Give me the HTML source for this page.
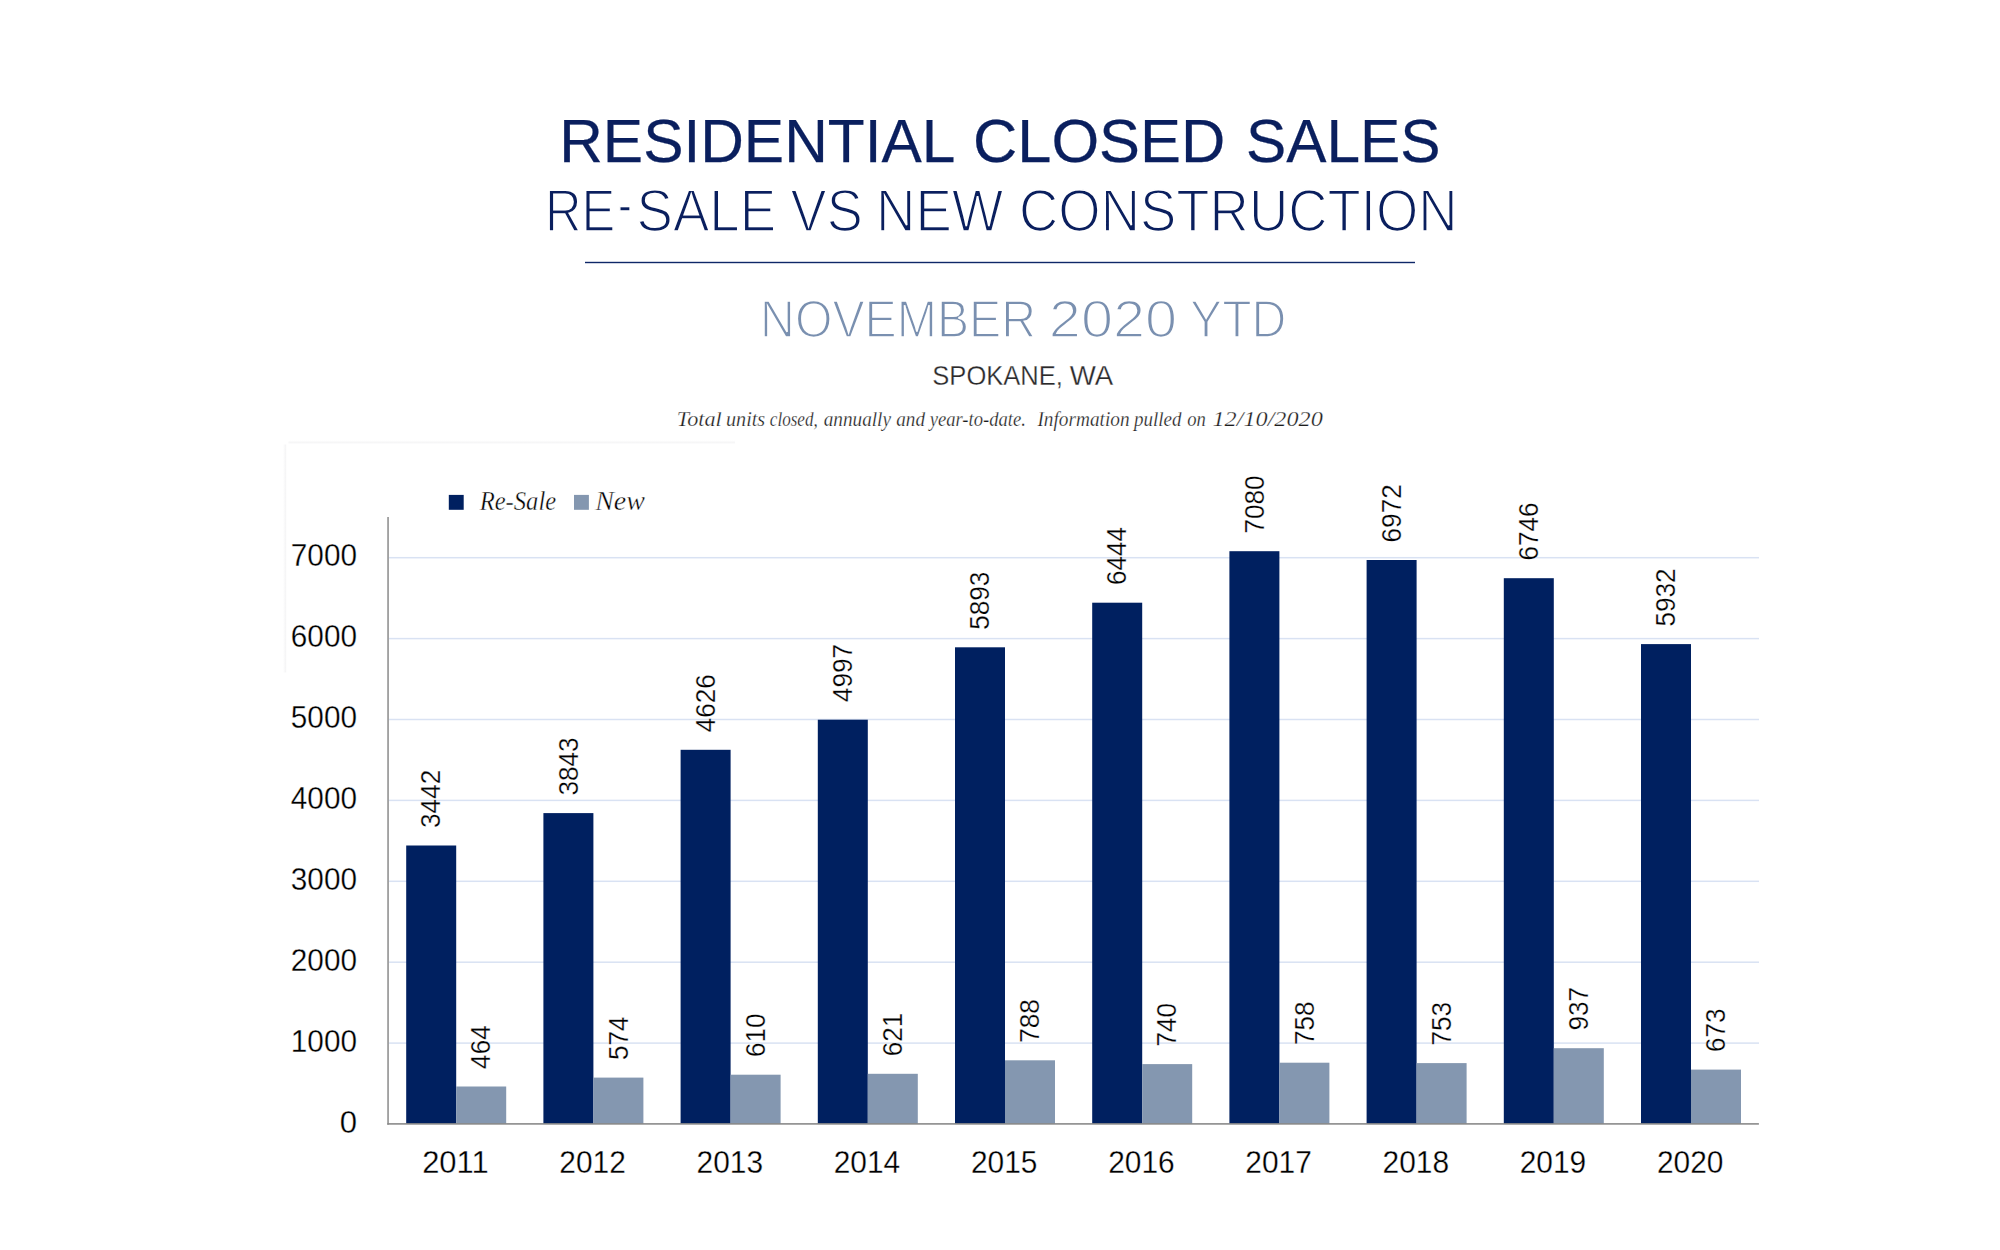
<!DOCTYPE html>
<html lang="en"><head><meta charset="utf-8"><title>Residential Closed Sales</title>
<style>
html,body{margin:0;padding:0;background:#fff;}
body{width:2000px;height:1250px;overflow:hidden;position:relative;}
svg{position:absolute;left:0;top:0;display:block;}
text{font-family:"Liberation Sans",sans-serif;white-space:pre;}
.ser,.ser text{font-family:"Liberation Serif",serif;font-style:italic;}
</style></head><body>
<svg width="2000" height="1250" viewBox="0 0 2000 1250">
<defs>
<linearGradient id="sh" x1="0" y1="0" x2="0" y2="1"><stop offset="0" stop-color="#fff"/><stop offset="1" stop-color="#f3f3f4"/></linearGradient>
<linearGradient id="sv" x1="0" y1="0" x2="1" y2="0"><stop offset="0" stop-color="#fff"/><stop offset="1" stop-color="#f3f3f4"/></linearGradient>
</defs>
<rect x="0" y="0" width="2000" height="1250" fill="#fff"/>
<rect x="288.5" y="440.3" width="446.5" height="3" fill="url(#sh)"/>
<rect x="283" y="444.5" width="3.2" height="228" fill="url(#sv)"/>
<g id="t1" font-size="61.2" fill="#0a1f5e" stroke="#0a1f5e" stroke-width="0.25"><text x="559.21" y="162" textLength="396.14" lengthAdjust="spacingAndGlyphs">RESIDENTIAL</text><text x="972.99" y="162" textLength="252.24" lengthAdjust="spacingAndGlyphs">CLOSED</text><text x="1245.88" y="162" textLength="194.61" lengthAdjust="spacingAndGlyphs">SALES</text></g>
<g id="t2" font-size="58.9" fill="#0a1f5e" stroke="#fff" stroke-width="1.75"><text x="545.01" y="230.7" textLength="70.34" lengthAdjust="spacingAndGlyphs">RE</text><text x="618.03" y="224.39999999999998" textLength="13.85" lengthAdjust="spacingAndGlyphs">-</text><text x="636.52" y="230.7" textLength="139.57" lengthAdjust="spacingAndGlyphs">SALE</text><text x="790.62" y="230.7" textLength="72.15" lengthAdjust="spacingAndGlyphs">VS</text><text x="875.97" y="230.7" textLength="127.33" lengthAdjust="spacingAndGlyphs">NEW</text><text x="1019.03" y="230.7" textLength="438.67" lengthAdjust="spacingAndGlyphs">CONSTRUCTION</text></g>
<rect x="585" y="261.8" width="830" height="1.4" fill="#0e2768"/>
<g id="t3" font-size="52.3" fill="#7a90b0" stroke="#fff" stroke-width="1.7"><text x="760.11" y="336.9" textLength="275.94" lengthAdjust="spacingAndGlyphs">NOVEMBER</text><text x="1048.84" y="336.9" textLength="128.3" lengthAdjust="spacingAndGlyphs">2020</text><text x="1190.02" y="336.9" textLength="96.38" lengthAdjust="spacingAndGlyphs">YTD</text></g>
<g id="t4" font-size="28.5" fill="#2b2a2b" stroke="#fff" stroke-width="0.3"><text x="932.3" y="385" textLength="130.68" lengthAdjust="spacingAndGlyphs">SPOKANE,</text><text x="1069.66" y="385" textLength="43.49" lengthAdjust="spacingAndGlyphs">WA</text></g>
<g id="t5" class="ser" font-size="20.5" fill="#1c1c1c" stroke="#fff" stroke-width="0.25"><text x="676.88" y="425.6" textLength="44.85" lengthAdjust="spacingAndGlyphs">Total</text><text x="726.02" y="425.6" textLength="39.19" lengthAdjust="spacingAndGlyphs">units</text><text x="769.82" y="425.6" textLength="47.93" lengthAdjust="spacingAndGlyphs">closed,</text><text x="823.65" y="425.6" textLength="67.35" lengthAdjust="spacingAndGlyphs">annually</text><text x="896.3" y="425.6" textLength="28.7" lengthAdjust="spacingAndGlyphs">and</text><text x="929.71" y="425.6" textLength="96.15" lengthAdjust="spacingAndGlyphs">year-to-date.</text><text x="1037.4" y="425.6" textLength="92.15" lengthAdjust="spacingAndGlyphs">Information</text><text x="1133.88" y="425.6" textLength="47.57" lengthAdjust="spacingAndGlyphs">pulled</text><text x="1187.32" y="425.6" textLength="18.59" lengthAdjust="spacingAndGlyphs">on</text><text x="1212.47" y="425.6" textLength="110.36" lengthAdjust="spacingAndGlyphs">12/10/2020</text></g>
<rect x="448.8" y="494.9" width="14.9" height="14.9" fill="#002060"/>
<text class="ser" x="479.65" y="510.3" font-size="27" fill="#000" stroke="#fff" stroke-width="0.4" textLength="76.49" lengthAdjust="spacingAndGlyphs">Re-Sale</text>
<rect x="574" y="494.9" width="14.9" height="14.9" fill="#8497b0"/>
<text class="ser" x="595.15" y="510.3" font-size="27" fill="#000" stroke="#fff" stroke-width="0.4" textLength="49.78" lengthAdjust="spacingAndGlyphs">New</text>
<rect x="389" y="1042.35" width="1370" height="1.5" fill="#d9e2f3"/>
<rect x="389" y="961.45" width="1370" height="1.5" fill="#d9e2f3"/>
<rect x="389" y="880.55" width="1370" height="1.5" fill="#d9e2f3"/>
<rect x="389" y="799.65" width="1370" height="1.5" fill="#d9e2f3"/>
<rect x="389" y="718.75" width="1370" height="1.5" fill="#d9e2f3"/>
<rect x="389" y="637.85" width="1370" height="1.5" fill="#d9e2f3"/>
<rect x="389" y="556.95" width="1370" height="1.5" fill="#d9e2f3"/>
<rect x="406.2" y="845.5" width="50.0" height="278.5" fill="#002060"/>
<rect x="456.2" y="1086.5" width="50.0" height="37.5" fill="#8497b0"/>
<rect x="543.4" y="813.1" width="50.0" height="310.9" fill="#002060"/>
<rect x="593.4" y="1077.6" width="50.0" height="46.4" fill="#8497b0"/>
<rect x="680.6" y="749.8" width="50.0" height="374.2" fill="#002060"/>
<rect x="730.6" y="1074.7" width="50.0" height="49.3" fill="#8497b0"/>
<rect x="817.8" y="719.7" width="50.0" height="404.3" fill="#002060"/>
<rect x="867.8" y="1073.8" width="50.0" height="50.2" fill="#8497b0"/>
<rect x="955.0" y="647.3" width="50.0" height="476.7" fill="#002060"/>
<rect x="1005.0" y="1060.3" width="50.0" height="63.7" fill="#8497b0"/>
<rect x="1092.2" y="602.7" width="50.0" height="521.3" fill="#002060"/>
<rect x="1142.2" y="1064.1" width="50.0" height="59.9" fill="#8497b0"/>
<rect x="1229.4" y="551.2" width="50.0" height="572.8" fill="#002060"/>
<rect x="1279.4" y="1062.7" width="50.0" height="61.3" fill="#8497b0"/>
<rect x="1366.6" y="560.0" width="50.0" height="564.0" fill="#002060"/>
<rect x="1416.6" y="1063.1" width="50.0" height="60.9" fill="#8497b0"/>
<rect x="1503.8" y="578.2" width="50.0" height="545.8" fill="#002060"/>
<rect x="1553.8" y="1048.2" width="50.0" height="75.8" fill="#8497b0"/>
<rect x="1641.0" y="644.1" width="50.0" height="479.9" fill="#002060"/>
<rect x="1691.0" y="1069.6" width="50.0" height="54.4" fill="#8497b0"/>
<rect x="387.3" y="517" width="1.5" height="607.7" fill="#8a8a8a"/>
<rect x="387.3" y="1123.1" width="1371.6" height="1.6" fill="#8a8a8a"/>
<text x="357" y="1132.6" text-anchor="end" font-size="30.9" fill="#000" stroke="#fff" stroke-width="0.3" textLength="17.3" lengthAdjust="spacingAndGlyphs">0</text>
<text x="357" y="1051.7" text-anchor="end" font-size="30.9" fill="#000" stroke="#fff" stroke-width="0.3" textLength="66.2" lengthAdjust="spacingAndGlyphs">1000</text>
<text x="357" y="970.8" text-anchor="end" font-size="30.9" fill="#000" stroke="#fff" stroke-width="0.3" textLength="66.2" lengthAdjust="spacingAndGlyphs">2000</text>
<text x="357" y="889.9" text-anchor="end" font-size="30.9" fill="#000" stroke="#fff" stroke-width="0.3" textLength="66.2" lengthAdjust="spacingAndGlyphs">3000</text>
<text x="357" y="809.0" text-anchor="end" font-size="30.9" fill="#000" stroke="#fff" stroke-width="0.3" textLength="66.2" lengthAdjust="spacingAndGlyphs">4000</text>
<text x="357" y="728.1" text-anchor="end" font-size="30.9" fill="#000" stroke="#fff" stroke-width="0.3" textLength="66.2" lengthAdjust="spacingAndGlyphs">5000</text>
<text x="357" y="647.2" text-anchor="end" font-size="30.9" fill="#000" stroke="#fff" stroke-width="0.3" textLength="66.2" lengthAdjust="spacingAndGlyphs">6000</text>
<text x="357" y="566.3" text-anchor="end" font-size="30.9" fill="#000" stroke="#fff" stroke-width="0.3" textLength="66.2" lengthAdjust="spacingAndGlyphs">7000</text>
<text x="455.4" y="1172.6" text-anchor="middle" font-size="30.9" fill="#000" stroke="#fff" stroke-width="0.3" textLength="66.5" lengthAdjust="spacingAndGlyphs">2011</text>
<text x="592.6" y="1172.6" text-anchor="middle" font-size="30.9" fill="#000" stroke="#fff" stroke-width="0.3" textLength="66.5" lengthAdjust="spacingAndGlyphs">2012</text>
<text x="729.8" y="1172.6" text-anchor="middle" font-size="30.9" fill="#000" stroke="#fff" stroke-width="0.3" textLength="66.5" lengthAdjust="spacingAndGlyphs">2013</text>
<text x="867.0" y="1172.6" text-anchor="middle" font-size="30.9" fill="#000" stroke="#fff" stroke-width="0.3" textLength="66.5" lengthAdjust="spacingAndGlyphs">2014</text>
<text x="1004.2" y="1172.6" text-anchor="middle" font-size="30.9" fill="#000" stroke="#fff" stroke-width="0.3" textLength="66.5" lengthAdjust="spacingAndGlyphs">2015</text>
<text x="1141.4" y="1172.6" text-anchor="middle" font-size="30.9" fill="#000" stroke="#fff" stroke-width="0.3" textLength="66.5" lengthAdjust="spacingAndGlyphs">2016</text>
<text x="1278.6" y="1172.6" text-anchor="middle" font-size="30.9" fill="#000" stroke="#fff" stroke-width="0.3" textLength="66.5" lengthAdjust="spacingAndGlyphs">2017</text>
<text x="1415.8" y="1172.6" text-anchor="middle" font-size="30.9" fill="#000" stroke="#fff" stroke-width="0.3" textLength="66.5" lengthAdjust="spacingAndGlyphs">2018</text>
<text x="1553.0" y="1172.6" text-anchor="middle" font-size="30.9" fill="#000" stroke="#fff" stroke-width="0.3" textLength="66.5" lengthAdjust="spacingAndGlyphs">2019</text>
<text x="1690.2" y="1172.6" text-anchor="middle" font-size="30.9" fill="#000" stroke="#fff" stroke-width="0.3" textLength="66.5" lengthAdjust="spacingAndGlyphs">2020</text>
<text transform="translate(440.3,827.9) rotate(-90)" font-size="27.8" fill="#000" stroke="#fff" stroke-width="0.3" textLength="58.1" lengthAdjust="spacingAndGlyphs">3442</text>
<text transform="translate(490.3,1068.9) rotate(-90)" font-size="27.8" fill="#000" stroke="#fff" stroke-width="0.3" textLength="43.6" lengthAdjust="spacingAndGlyphs">464</text>
<text transform="translate(577.5,795.5) rotate(-90)" font-size="27.8" fill="#000" stroke="#fff" stroke-width="0.3" textLength="58.1" lengthAdjust="spacingAndGlyphs">3843</text>
<text transform="translate(627.5,1060.0) rotate(-90)" font-size="27.8" fill="#000" stroke="#fff" stroke-width="0.3" textLength="43.6" lengthAdjust="spacingAndGlyphs">574</text>
<text transform="translate(714.7,732.2) rotate(-90)" font-size="27.8" fill="#000" stroke="#fff" stroke-width="0.3" textLength="58.1" lengthAdjust="spacingAndGlyphs">4626</text>
<text transform="translate(764.7,1057.1) rotate(-90)" font-size="27.8" fill="#000" stroke="#fff" stroke-width="0.3" textLength="43.6" lengthAdjust="spacingAndGlyphs">610</text>
<text transform="translate(851.9,702.1) rotate(-90)" font-size="27.8" fill="#000" stroke="#fff" stroke-width="0.3" textLength="58.1" lengthAdjust="spacingAndGlyphs">4997</text>
<text transform="translate(901.9,1056.2) rotate(-90)" font-size="27.8" fill="#000" stroke="#fff" stroke-width="0.3" textLength="43.6" lengthAdjust="spacingAndGlyphs">621</text>
<text transform="translate(989.1,629.7) rotate(-90)" font-size="27.8" fill="#000" stroke="#fff" stroke-width="0.3" textLength="58.1" lengthAdjust="spacingAndGlyphs">5893</text>
<text transform="translate(1039.1,1042.7) rotate(-90)" font-size="27.8" fill="#000" stroke="#fff" stroke-width="0.3" textLength="43.6" lengthAdjust="spacingAndGlyphs">788</text>
<text transform="translate(1126.3,585.1) rotate(-90)" font-size="27.8" fill="#000" stroke="#fff" stroke-width="0.3" textLength="58.1" lengthAdjust="spacingAndGlyphs">6444</text>
<text transform="translate(1176.3,1046.5) rotate(-90)" font-size="27.8" fill="#000" stroke="#fff" stroke-width="0.3" textLength="43.6" lengthAdjust="spacingAndGlyphs">740</text>
<text transform="translate(1263.5,533.6) rotate(-90)" font-size="27.8" fill="#000" stroke="#fff" stroke-width="0.3" textLength="58.1" lengthAdjust="spacingAndGlyphs">7080</text>
<text transform="translate(1313.5,1045.1) rotate(-90)" font-size="27.8" fill="#000" stroke="#fff" stroke-width="0.3" textLength="43.6" lengthAdjust="spacingAndGlyphs">758</text>
<text transform="translate(1400.7,542.4) rotate(-90)" font-size="27.8" fill="#000" stroke="#fff" stroke-width="0.3" textLength="58.1" lengthAdjust="spacingAndGlyphs">6972</text>
<text transform="translate(1450.7,1045.5) rotate(-90)" font-size="27.8" fill="#000" stroke="#fff" stroke-width="0.3" textLength="43.6" lengthAdjust="spacingAndGlyphs">753</text>
<text transform="translate(1537.9,560.6) rotate(-90)" font-size="27.8" fill="#000" stroke="#fff" stroke-width="0.3" textLength="58.1" lengthAdjust="spacingAndGlyphs">6746</text>
<text transform="translate(1587.9,1030.6) rotate(-90)" font-size="27.8" fill="#000" stroke="#fff" stroke-width="0.3" textLength="43.6" lengthAdjust="spacingAndGlyphs">937</text>
<text transform="translate(1675.1,626.5) rotate(-90)" font-size="27.8" fill="#000" stroke="#fff" stroke-width="0.3" textLength="58.1" lengthAdjust="spacingAndGlyphs">5932</text>
<text transform="translate(1725.1,1052.0) rotate(-90)" font-size="27.8" fill="#000" stroke="#fff" stroke-width="0.3" textLength="43.6" lengthAdjust="spacingAndGlyphs">673</text>
</svg>
</body></html>
